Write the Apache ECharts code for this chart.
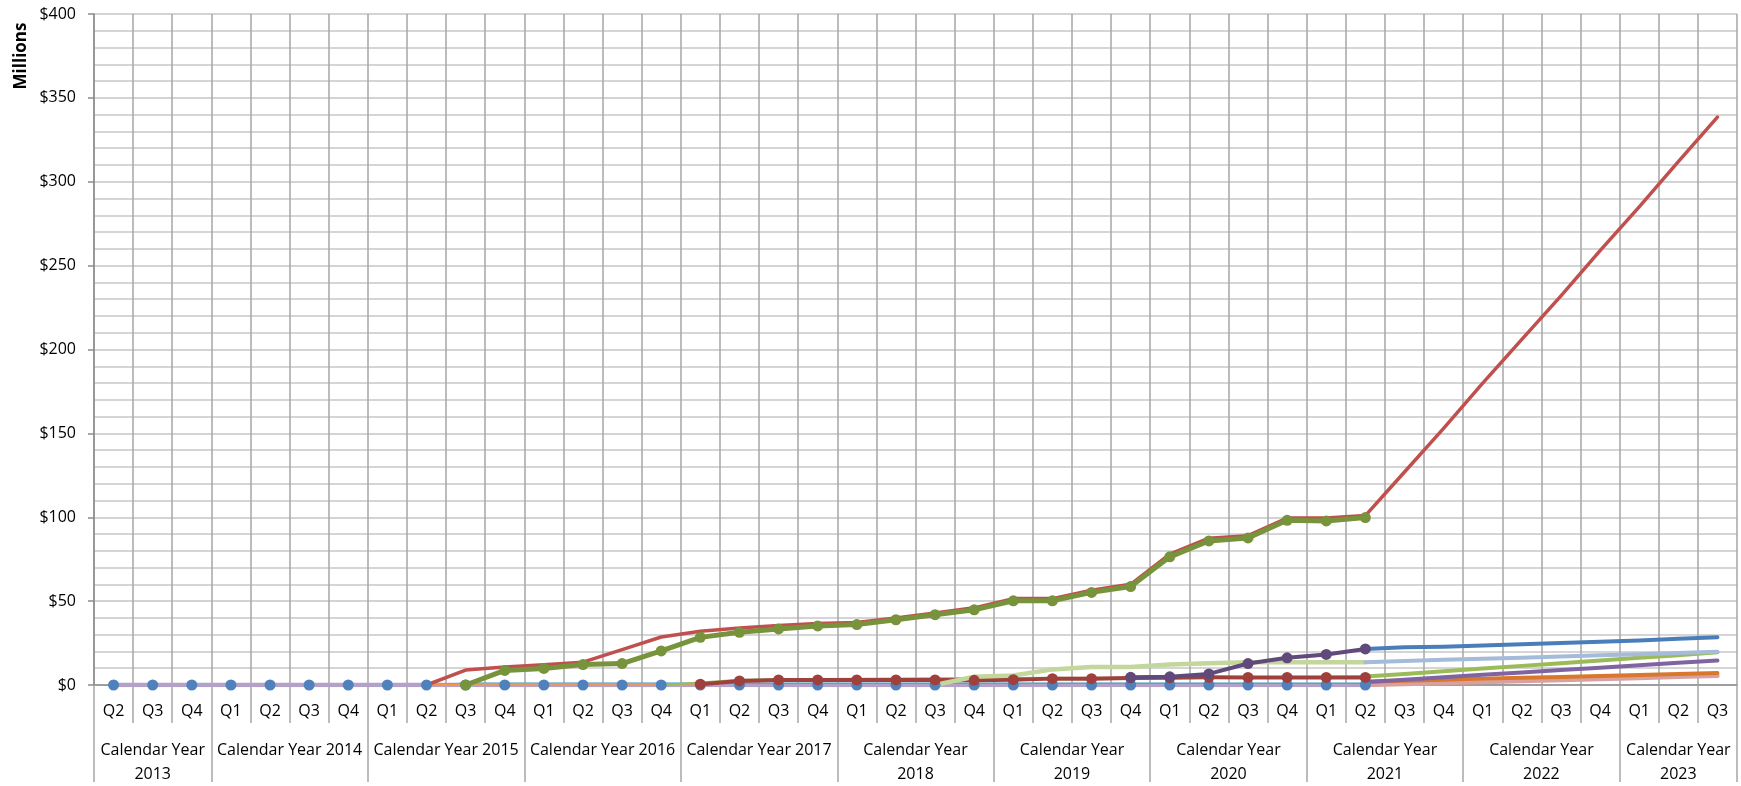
<!DOCTYPE html>
<html>
<head>
<meta charset="utf-8">
<script src="https://cdn.jsdelivr.net/npm/echarts@6/dist/echarts.min.js"></script>
<style>
html,body{margin:0;padding:0;background:#fff;}
#chart{width:1741px;height:786px;}
</style>
</head>
<body>
<div id="chart"></div>
<script>
// ---------- DATA ----------
const quarters = ['Q2','Q3','Q4',
  'Q1','Q2','Q3','Q4',
  'Q1','Q2','Q3','Q4',
  'Q1','Q2','Q3','Q4',
  'Q1','Q2','Q3','Q4',
  'Q1','Q2','Q3','Q4',
  'Q1','Q2','Q3','Q4',
  'Q1','Q2','Q3','Q4',
  'Q1','Q2','Q3','Q4',
  'Q1','Q2','Q3','Q4',
  'Q1','Q2','Q3'];
const yearLabels = ['Calendar Year\n2013','Calendar Year 2014','Calendar Year 2015','Calendar Year 2016',
  'Calendar Year 2017','Calendar Year\n2018','Calendar Year\n2019','Calendar Year\n2020',
  'Calendar Year\n2021','Calendar Year\n2022','Calendar Year\n2023'];
const quartersPerYear = [3,4,4,4,4,4,4,4,4,4,3];
const yTicks = [0,50,100,150,200,250,300,350,400];

// series values (Millions $), each with its first quarter index
const blueHistStart = 0;
const blueHist = [0,0,0,0,0,0,0,0,0,0,0,0,0,0,0,0,0,0,0,0,0,0,0,0,0,0,0,0,0,0,0,0,0];
const lavenderStart = 0;
const lavender = [0,0,0,0,0,0,0,0,0,0,0,0,0,0,0,0,0,0,0,0,0,0,0,0,0,0,0,0,0,0,0,0,0];
const tealStart = 8;
const teal = [0,1,1,1,1,1,1,1,1,1,1,1,1,1,1,1,1,1,1,1,1,1,1,1,1];
const orangeThinStart = 8;
const orangeThin = [0,0.6,0.6,0.6,0.6,0.6,0.6,0.8,1.5];
const thinGreenStart = 14;
const thinGreen = [0,1.5,3.2,3.5,3.6,3.8,3.9,4.0,4.1,4.2,4.3,4.3,4.4,4.6,4.7,4.8,4.8,4.9,5.0];
const darkRedStart = 15;
const darkRed = [0.5,2.4,3.0,3.0,3.0,3.0,3.0,2.8,3.2,3.8,3.8,4.2,4.3,4.6,4.5,4.5,4.5,4.5];
const lightGreenStart = 21;
const lightGreen = [0,4.9,5.7,9.3,10.7,10.7,12.2,13.0,13.6,13.6,13.6,13.6];
const purpleHistStart = 26;
const purpleHist = [4.6,4.9,6.6,12.8,16.2,18.2,21.5];
const totalStart = 8;
const total = [0,8.9,10.7,12.1,13.6,21.1,28.6,32.0,34.0,35.4,36.6,37.2,40.0,43.0,46.0,51.5,51.5,56.5,60.0,
  78.0,87.5,89.0,99.5,99.5,101.0,127,153,180,206,232,259,285,312,338.5];
const oliveStart = 9;
const olive = [0,8.7,9.9,12.2,12.8,20.3,28.4,31.4,33.4,35.2,36.0,38.9,41.9,44.8,50.2,50.2,55.2,58.7,
  76.4,85.9,87.7,98.2,97.8,99.8];
const projStart = 32;
const projBlue = [21.5,22.5,22.8,23.5,24.3,25.0,25.8,26.6,27.5,28.4];
const projSteel = [13.6,14.3,15.0,15.6,16.3,17.0,17.7,18.4,19.1,19.8];
const projGreen = [5.0,6.6,8.2,9.8,11.4,13.0,14.6,16.2,17.8,19.5];
const projPurple = [1.8,3.2,4.6,6.1,7.5,8.9,10.3,11.8,13.2,14.6];
const projOrange = [2.0,2.6,3.2,3.8,4.3,4.8,5.3,5.9,6.5,7.1];
const projPink = [0,0.6,1.2,1.8,2.4,3.0,3.6,4.2,4.9,5.5];

// ---------- BUILD ----------
const N = quarters.length;
function place(start, vals){
  const a = new Array(N).fill(null);
  vals.forEach((v,i)=>{ a[start+i] = v; });
  return a;
}
const yearBounds = [0];
const yearCenters = [];
quartersPerYear.forEach(c=>{
  const s = yearBounds[yearBounds.length-1];
  yearCenters.push(s + c/2);
  yearBounds.push(s + c);
});

const FONT = '"Open Sans", Lato, sans-serif';
const GRID_V = '#A6A6A6';

function lineSeries(name, start, vals, color, width, opts){
  return Object.assign({
    name, type:'line', data: place(start, vals), xAxisIndex:0,
    symbol:'none', showSymbol:false, connectNulls:false,
    lineStyle:{color, width, cap:'round', join:'round'},
    itemStyle:{color}, emphasis:{disabled:true}, silent:true
  }, opts||{});
}
function markerSeries(name, start, vals, color, width, size){
  return lineSeries(name, start, vals, color, width, {symbol:'circle', showSymbol:true, symbolSize:size});
}

const chart = echarts.init(document.getElementById('chart'));
chart.setOption({
  animation:false,
  backgroundColor:'#fff',
  grid:{left:94, right:4, top:14, bottom:97, containLabel:false},
  graphic:[{
    type:'text', x:21, y:56, rotation:Math.PI/2,
    style:{text:'Millions', fontSize:17, fontWeight:'bold', fontFamily:FONT, fill:'#000', align:'center', verticalAlign:'middle'}
  }],
  xAxis:[{
    type:'category', data:quarters, boundaryGap:true, position:'bottom',
    axisLine:{show:true, lineStyle:{color:'#8C8C8C', width:1.5}},
    axisTick:{show:true, interval:0, length:38, lineStyle:{color:GRID_V, width:1.5}},
    axisLabel:{interval:0, fontSize:16, fontFamily:FONT, color:'#000', margin:16, lineHeight:20},
    splitLine:{show:true, interval:0, lineStyle:{color:GRID_V, width:1.5}}
  },{
    type:'value', min:0, max:N, position:'bottom', offset:0,
    axisLine:{show:false},
    axisTick:{show:true, customValues:yearBounds, length:97, lineStyle:{color:GRID_V, width:1.5}},
    axisLabel:{show:true, customValues:yearCenters, fontSize:16, fontFamily:FONT, color:'#000',
      margin:54, lineHeight:23.5,
      formatter:function(v){ const i = yearCenters.indexOf(v); return i>=0 ? yearLabels[i] : ''; }},
    splitLine:{show:false}
  }],
  yAxis:{
    type:'value', min:yTicks[0], max:yTicks[yTicks.length-1], interval:50,
    axisLine:{show:true, lineStyle:{color:'#8C8C8C', width:1.5}},
    axisTick:{show:true, length:6, lineStyle:{color:'#8C8C8C', width:1.5}},
    axisLabel:{formatter:function(v){return '$'+v;}, fontSize:16, fontFamily:FONT, color:'#000', margin:18},
    splitLine:{show:true, lineStyle:{color:'#C4C4C4', width:1.5}},
    minorTick:{show:false, splitNumber:5},
    minorSplitLine:{show:true, lineStyle:{color:'#C8C8C8', width:1.5}}
  },
  series:[
    markerSeries('Blue', blueHistStart, blueHist, '#4F81BD', 3, 11),
    lineSeries('Lavender', lavenderStart, lavender, '#B3A2C7', 4.5),
    lineSeries('Teal', tealStart, teal, '#4BACC6', 1.5),
    lineSeries('Orange', orangeThinStart, orangeThin, '#F79646', 1.5),
    lineSeries('Green thin', thinGreenStart, thinGreen, '#9BBB59', 2),
    markerSeries('Dark red', darkRedStart, darkRed, '#A0403D', 4, 11),
    lineSeries('Light green', lightGreenStart, lightGreen, '#C3D69B', 4.5),
    markerSeries('Purple', purpleHistStart, purpleHist, '#604A7B', 4, 11),
    lineSeries('Proj pink', projStart, projPink, '#D9A0A0', 4.5),
    lineSeries('Proj orange', projStart, projOrange, '#D9782D', 4),
    lineSeries('Proj purple', projStart, projPurple, '#8064A2', 4),
    lineSeries('Proj green', projStart, projGreen, '#9BBB59', 4),
    lineSeries('Proj steel', projStart, projSteel, '#A5BBDA', 4),
    lineSeries('Proj blue', projStart, projBlue, '#4A7EBB', 4),
    lineSeries('Total', totalStart, total, '#C0504D', 3.5),
    markerSeries('Olive', oliveStart, olive, '#77933C', 5, 11)
  ]
});
</script>
</body>
</html>
